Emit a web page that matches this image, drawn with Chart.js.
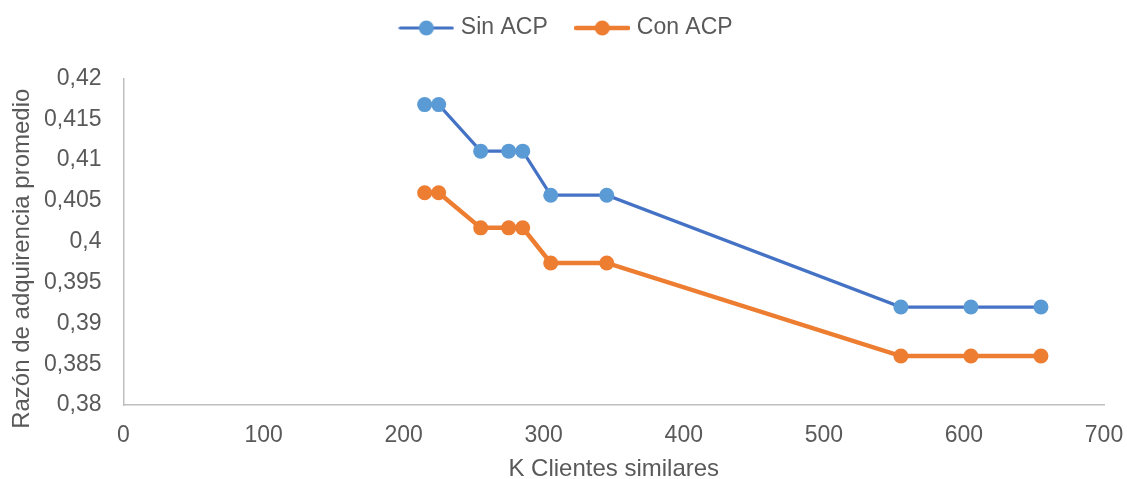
<!DOCTYPE html>
<html>
<head>
<meta charset="utf-8">
<script src="https://cdn.jsdelivr.net/npm/chart.js@4"></script>
<style>
  html, body { margin: 0; padding: 0; background: #ffffff; }
  #wrap { width: 1127px; height: 479px; position: relative; }
</style>
</head>
<body>
<div id="wrap"><canvas id="chart"></canvas></div>
<script>
// K values (number of similar clients) and average acquisition ratio per series
const kValues = [215, 225, 255, 275, 285, 305, 345, 555, 605, 655];
const sinACP = [0.4168, 0.4168, 0.4111, 0.4111, 0.4111, 0.4057, 0.4057, 0.3920, 0.3920, 0.3920];
const conACP = [0.4060, 0.4060, 0.4017, 0.4017, 0.4017, 0.3974, 0.3974, 0.3860, 0.3860, 0.3860];
const seriesNames = ['Sin ACP', 'Con ACP'];
const xTitle = 'K Clientes similares';
const yTitle = 'Razón de adquirencia promedio';

const FONT = "'Liberation Sans', Arial, sans-serif";
const TEXT = '#595959';
const AXIS = '#bfbfbf';

const styles = [
  { line: '#4472c4', point: '#5b9bd5', width: 3.2 },
  { line: '#ed7d31', point: '#ed7d31', width: 4.5 }
];

// Legend symbol: short line segment with a marker in the middle
function legendSymbol(s) {
  const c = document.createElement('canvas');
  c.width = 56; c.height = 16;
  const g = c.getContext('2d');
  g.strokeStyle = s.line; g.lineWidth = s.width; g.lineCap = 'round';
  g.beginPath(); g.moveTo(2, 8); g.lineTo(54, 8); g.stroke();
  g.fillStyle = s.point;
  g.beginPath(); g.arc(28, 8, 7.5, 0, Math.PI * 2); g.fill();
  return c;
}

const toPoints = (ys) => kValues.map((k, i) => ({ x: k, y: ys[i] }));

const datasets = [sinACP, conACP].map((ys, i) => ({
  label: seriesNames[i],
  data: toPoints(ys),
  showLine: true,
  borderColor: styles[i].line,
  borderWidth: styles[i].width,
  backgroundColor: styles[i].point,
  pointBackgroundColor: styles[i].point,
  pointBorderColor: styles[i].point,
  pointBorderWidth: 0,
  pointRadius: 7.5,
  pointHoverRadius: 7.5,
  pointStyle: 'circle',
  tension: 0
}));
const symbols = styles.map(legendSymbol);

const fmt = (v) => String(+Number(v).toFixed(3)).replace('.', ',');

// Nudges the legend into place and draws the vertical axis title
const layoutTweaks = {
  id: 'layoutTweaks',
  afterLayout(chart) {
    const lg = chart.legend;
    const dx = 16, newTop = -15;
    lg.left += dx; lg.right += dx;
    const h = lg.bottom - lg.top;
    lg.top = newTop; lg.bottom = newTop + h;
  },
  afterDraw(chart) {
    const { ctx, chartArea } = chart;
    ctx.save();
    ctx.translate(22.5, (chartArea.top + chartArea.bottom) / 2 + 17);
    ctx.rotate(-Math.PI / 2);
    ctx.font = `24px ${FONT}`;
    ctx.fillStyle = TEXT;
    ctx.textAlign = 'center';
    ctx.textBaseline = 'middle';
    ctx.fillText(yTitle, 0, 0);
    ctx.restore();
  }
};

new Chart(document.getElementById('chart'), {
  type: 'scatter',
  data: { datasets },
  plugins: [layoutTweaks],
  options: {
    responsive: true,
    maintainAspectRatio: false,
    animation: false,
    layout: { padding: { left: 0, right: 23, top: 14, bottom: 0 } },
    plugins: {
      tooltip: { enabled: false },
      legend: {
        position: 'top',
        labels: {
          usePointStyle: true,
          pointStyleWidth: 46,
          boxHeight: 14,
          padding: 31.5,
          color: TEXT,
          font: { family: FONT, size: 23 },
          generateLabels(chart) {
            return chart.data.datasets.map((d, i) => ({
              text: d.label,
              fillStyle: d.pointBackgroundColor,
              strokeStyle: d.borderColor,
              lineWidth: 0,
              pointStyle: symbols[i],
              fontColor: TEXT,
              hidden: false,
              datasetIndex: i
            }));
          }
        }
      }
    },
    scales: {
      x: {
        type: 'linear',
        min: 0, max: 700,
        ticks: { stepSize: 100, color: TEXT, font: { family: FONT, size: 23 }, padding: 17, maxRotation: 0 },
        grid: { display: false, drawTicks: false },
        border: { display: true, color: AXIS, width: 1.5 },
        title: { display: true, text: xTitle, color: TEXT, font: { family: FONT, size: 24, lineHeight: 1 }, padding: { top: 0, bottom: -2 } },
        afterFit(scale) { scale.height = 74; scale.paddingLeft = 0; scale.paddingRight = 0; }
      },
      y: {
        type: 'linear',
        min: 0.38, max: 0.42,
        ticks: { stepSize: 0.005, color: TEXT, font: { family: FONT, size: 23 }, padding: 22, callback: fmt },
        grid: { display: false, drawTicks: false },
        border: { display: true, color: AXIS, width: 1.5 },
        title: { display: false },
        afterFit(scale) { scale.width = 123.5; scale.paddingTop = 0; scale.paddingBottom = 0; }
      }
    }
  }
});
</script>
</body>
</html>
